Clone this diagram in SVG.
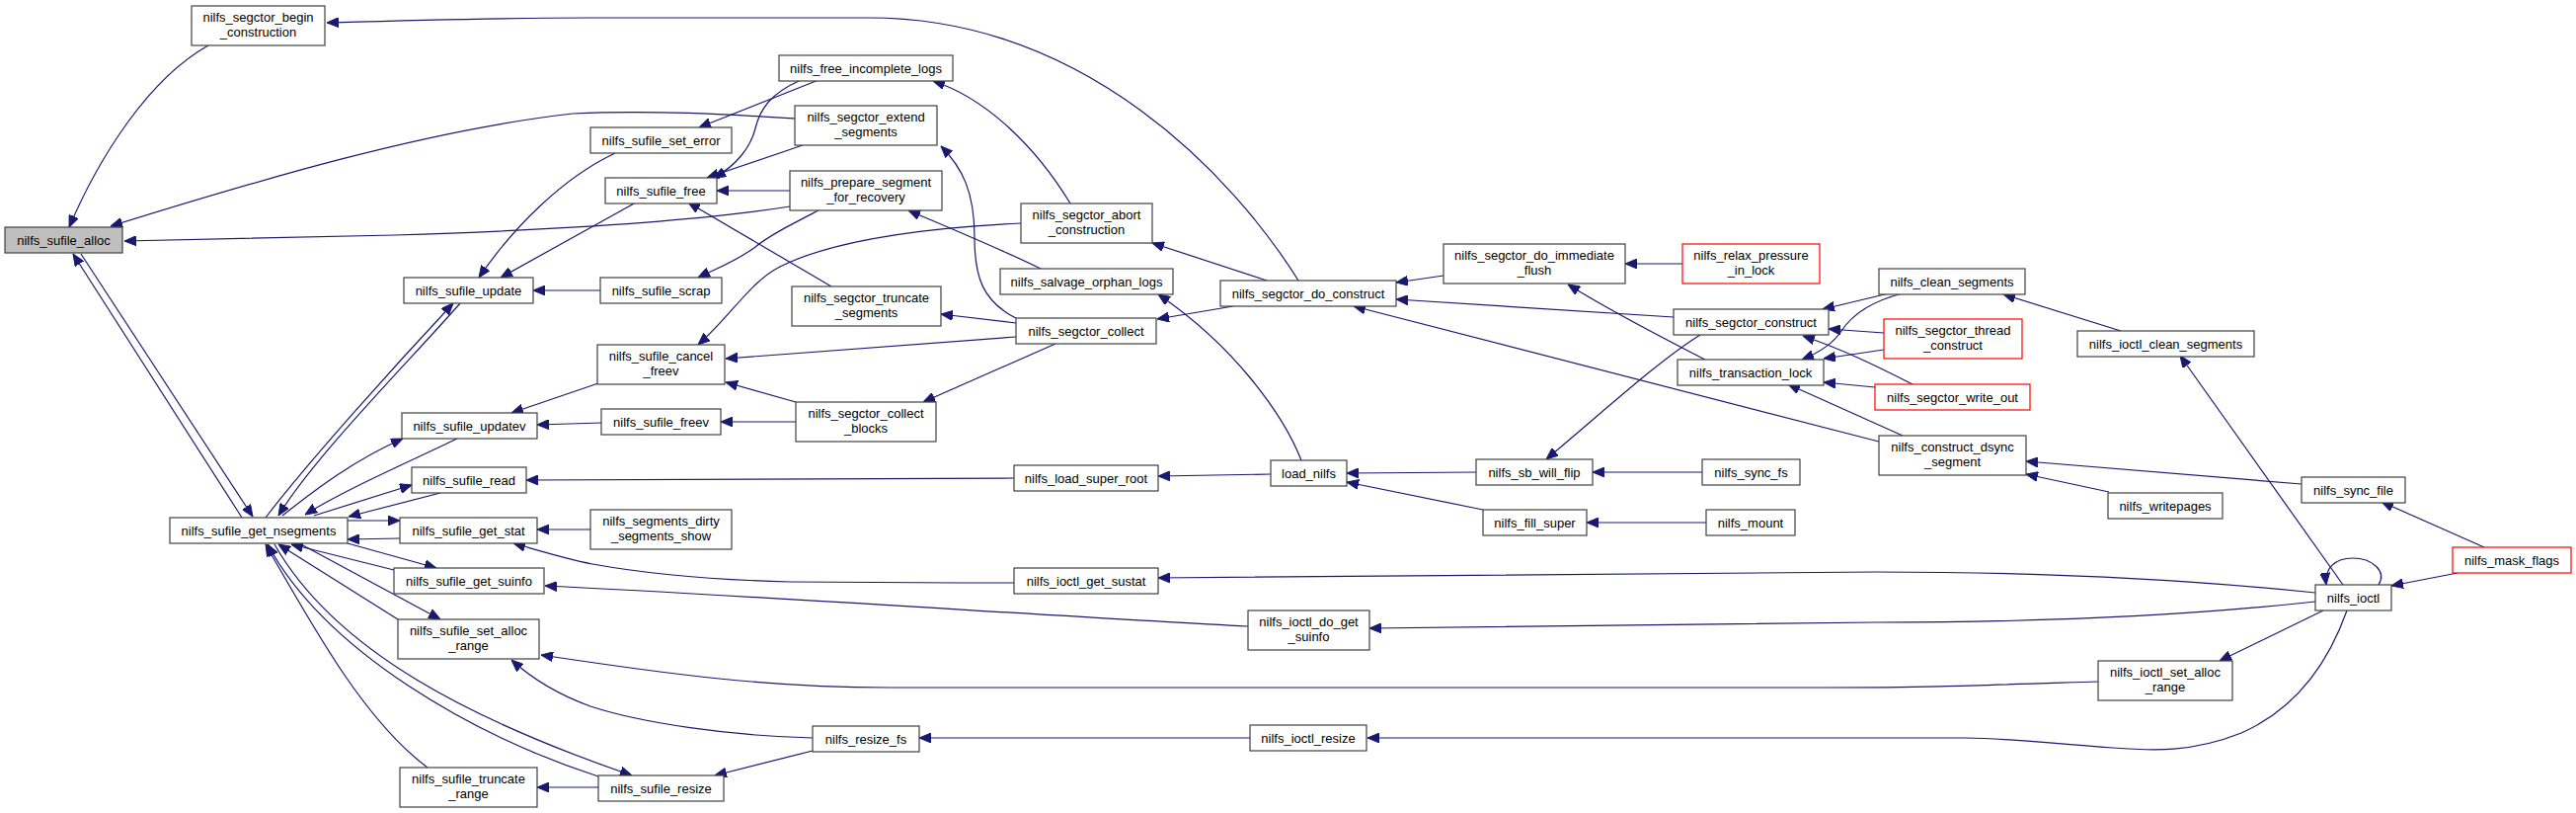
<svg xmlns="http://www.w3.org/2000/svg" width="2609" height="823" viewBox="0 0 2609 823">
<defs>
<marker id="a" markerWidth="12" markerHeight="10" refX="12" refY="5" orient="auto" markerUnits="userSpaceOnUse">
<path d="M0,0 L12,5 L0,10 z" fill="#191970" stroke="#191970" stroke-width="1"/>
</marker>
</defs>
<style>
.n rect{fill:#ffffff;stroke:#404040;stroke-width:1.2}
.n.root rect{fill:#bfbfbf}
.n.red rect{stroke:#ff0000}
.n text{font-family:"Liberation Sans",Arial,sans-serif;font-size:13px;fill:#000000;text-anchor:middle}
#edges path{fill:none;stroke:#191970;stroke-width:1.2;marker-end:url(#a)}
</style>
<rect x="0" y="0" width="2609" height="823" fill="#ffffff"/>
<g id="edges">
<path d="M211,46 C150,80 100,160 70,230"/>
<path d="M1315,284 C1250,180 1100,18 880,18 L600,18 C500,18 400,21 331,23"/>
<path d="M245,524 L74,257"/>
<path d="M82,257 L256,523"/>
<path d="M805,120 C740,116 660,111 580,115 C430,132 260,183 112,229"/>
<path d="M800,209 C700,225 560,233 400,238 L126,244"/>
<path d="M623,155 C570,180 520,230 485,281"/>
<path d="M644,205 L507,281"/>
<path d="M608,294 L540,294"/>
<path d="M269,524 C310,470 400,370 459,307"/>
<path d="M466,307 C420,360 320,460 282,522"/>
<path d="M829,81 L708,129"/>
<path d="M811,81 C780,95 770,110 765,130 C760,150 745,168 723,180"/>
<path d="M813,147 L716,180"/>
<path d="M800,193 L726,193"/>
<path d="M829,213 C800,228 780,238 765,250 C745,265 725,272 707,281"/>
<path d="M842,290 L697,205"/>
<path d="M1084,206 C1050,150 1000,100 945,82"/>
<path d="M1034,226 C950,230 850,240 790,270 C760,285 740,320 707,349"/>
<path d="M1283,284 L1167,246"/>
<path d="M1054,272 C1020,255 960,230 920,213"/>
<path d="M1029,322 C995,305 987,280 987,240 C987,195 975,170 953,148"/>
<path d="M1029,327 L953,318"/>
<path d="M1029,341 L735,363"/>
<path d="M806,407 L735,387"/>
<path d="M1069,348 L935,407"/>
<path d="M1249,310 L1172,323"/>
<path d="M1318,466 C1300,420 1250,350 1173,298"/>
<path d="M1462,279 L1414,286"/>
<path d="M1695,321 L1414,303"/>
<path d="M1903,447 L1371,310"/>
<path d="M1704,267 L1646,267"/>
<path d="M1727,364 C1690,345 1640,320 1588,288"/>
<path d="M1722,339 C1680,365 1620,420 1566,465"/>
<path d="M1913,297 L1846,313"/>
<path d="M1908,337 L1852,333"/>
<path d="M1937,389 C1905,373 1870,355 1826,340"/>
<path d="M1927,297 C1895,305 1875,320 1865,335 C1855,350 1840,358 1825,364"/>
<path d="M1908,354 L1847,363"/>
<path d="M1899,392 L1847,387"/>
<path d="M1927,441 L1811,389"/>
<path d="M2148,335 L2029,298"/>
<path d="M2331,490 L2052,467"/>
<path d="M2136,498 L2052,480"/>
<path d="M2516,554 L2412,508"/>
<path d="M2489,580 L2422,593"/>
<path d="M2373,592 L2208,360"/>
<path d="M2409,592 C2418,578 2402,565 2383,565 C2365,565 2354,575 2356,592"/>
<path d="M2353,618 L2248,669"/>
<path d="M2345,600 C2200,585 2050,579 1900,579 L1173,585"/>
<path d="M2345,609 C2200,625 2050,630 1900,630 L1387,636"/>
<path d="M2377,618 C2355,680 2320,720 2270,742 C2220,762 2180,760 2140,757 C2070,752 2030,747 1990,747 L1385,747"/>
<path d="M2125,690 C2000,694 1950,696 1850,696 L900,696 C780,696 680,683 548,663"/>
<path d="M823,747 C740,745 650,732 598,715 C565,703 540,688 518,668"/>
<path d="M823,760 L724,785"/>
<path d="M1266,747 L931,747"/>
<path d="M1287,480 L1173,482"/>
<path d="M1027,484 L533,486"/>
<path d="M1495,478 L1364,479"/>
<path d="M1502,516 L1364,488"/>
<path d="M1724,478 L1613,478"/>
<path d="M1728,529 L1607,529"/>
<path d="M1027,590 C950,590 870,590 800,589 C720,587 650,580 600,571 C570,565 545,557 520,550"/>
<path d="M1264,634 C1100,626 800,605 552,593"/>
<path d="M598,536 L544,536"/>
<path d="M352,527 L405,527"/>
<path d="M405,545 L352,546"/>
<path d="M286,522 C320,495 360,465 408,444"/>
<path d="M463,444 C420,465 350,495 309,521"/>
<path d="M318,522 L417,491"/>
<path d="M446,499 L353,523"/>
<path d="M352,550 L442,575"/>
<path d="M399,577 L295,551"/>
<path d="M303,550 L446,627"/>
<path d="M403,627 L282,551"/>
<path d="M278,551 C340,660 480,730 640,785"/>
<path d="M606,786 C480,745 330,660 271,551"/>
<path d="M433,777 C370,730 320,640 269,551"/>
<path d="M606,797 L544,797"/>
<path d="M609,428 L544,430"/>
<path d="M606,388 L518,418"/>
<path d="M806,427 L730,427"/>
</g>
<g id="n_alloc" class="n root"><rect x="5" y="230" width="119" height="26"/><text x="64.5" y="248">nilfs_sufile_alloc</text></g>
<g id="n_begin_construction" class="n"><rect x="194" y="6" width="135" height="40"/><text x="261.5" y="22">nilfs_segctor_begin</text><text x="261.5" y="37">_construction</text></g>
<g id="n_get_nsegments" class="n"><rect x="172" y="524" width="180" height="26"/><text x="262" y="542">nilfs_sufile_get_nsegments</text></g>
<g id="n_update" class="n"><rect x="409" y="281" width="131" height="26"/><text x="474.5" y="299">nilfs_sufile_update</text></g>
<g id="n_updatev" class="n"><rect x="407" y="418" width="137" height="26"/><text x="475.5" y="436">nilfs_sufile_updatev</text></g>
<g id="n_read" class="n"><rect x="417" y="473" width="116" height="26"/><text x="475" y="491">nilfs_sufile_read</text></g>
<g id="n_get_stat" class="n"><rect x="405" y="524" width="139" height="26"/><text x="474.5" y="542">nilfs_sufile_get_stat</text></g>
<g id="n_get_suinfo" class="n"><rect x="399" y="575" width="152" height="26"/><text x="475" y="593">nilfs_sufile_get_suinfo</text></g>
<g id="n_set_alloc_range" class="n"><rect x="403" y="627" width="143" height="40"/><text x="474.5" y="643">nilfs_sufile_set_alloc</text><text x="474.5" y="658">_range</text></g>
<g id="n_truncate_range" class="n"><rect x="405" y="777" width="139" height="40"/><text x="474.5" y="793">nilfs_sufile_truncate</text><text x="474.5" y="808">_range</text></g>
<g id="n_set_error" class="n"><rect x="598" y="129" width="143" height="26"/><text x="669.5" y="147">nilfs_sufile_set_error</text></g>
<g id="n_sufile_free" class="n"><rect x="613" y="180" width="113" height="26"/><text x="669.5" y="198">nilfs_sufile_free</text></g>
<g id="n_scrap" class="n"><rect x="608" y="281" width="123" height="26"/><text x="669.5" y="299">nilfs_sufile_scrap</text></g>
<g id="n_cancel_freev" class="n"><rect x="605" y="349" width="129" height="40"/><text x="669.5" y="365">nilfs_sufile_cancel</text><text x="669.5" y="380">_freev</text></g>
<g id="n_freev" class="n"><rect x="609" y="414" width="121" height="26"/><text x="669.5" y="432">nilfs_sufile_freev</text></g>
<g id="n_segments_dirty" class="n"><rect x="598" y="516" width="143" height="40"/><text x="669.5" y="532">nilfs_segments_dirty</text><text x="669.5" y="547">_segments_show</text></g>
<g id="n_sufile_resize" class="n"><rect x="606" y="785" width="127" height="26"/><text x="669.5" y="803">nilfs_sufile_resize</text></g>
<g id="n_free_incomplete_logs" class="n"><rect x="789" y="56" width="176" height="26"/><text x="877" y="74">nilfs_free_incomplete_logs</text></g>
<g id="n_extend_segments" class="n"><rect x="805" y="107" width="144" height="40"/><text x="877" y="123">nilfs_segctor_extend</text><text x="877" y="138">_segments</text></g>
<g id="n_prepare_segment" class="n"><rect x="800" y="173" width="154" height="40"/><text x="877" y="189">nilfs_prepare_segment</text><text x="877" y="204">_for_recovery</text></g>
<g id="n_truncate_segments" class="n"><rect x="802" y="290" width="151" height="40"/><text x="877.5" y="306">nilfs_segctor_truncate</text><text x="877.5" y="321">_segments</text></g>
<g id="n_collect_blocks" class="n"><rect x="806" y="407" width="142" height="40"/><text x="877" y="423">nilfs_segctor_collect</text><text x="877" y="438">_blocks</text></g>
<g id="n_resize_fs" class="n"><rect x="823" y="735" width="108" height="26"/><text x="877" y="753">nilfs_resize_fs</text></g>
<g id="n_abort_construction" class="n"><rect x="1034" y="206" width="133" height="40"/><text x="1100.5" y="222">nilfs_segctor_abort</text><text x="1100.5" y="237">_construction</text></g>
<g id="n_salvage_orphan_logs" class="n"><rect x="1013" y="272" width="175" height="26"/><text x="1100.5" y="290">nilfs_salvage_orphan_logs</text></g>
<g id="n_collect" class="n"><rect x="1029" y="322" width="142" height="26"/><text x="1100" y="340">nilfs_segctor_collect</text></g>
<g id="n_load_super_root" class="n"><rect x="1027" y="471" width="146" height="26"/><text x="1100" y="489">nilfs_load_super_root</text></g>
<g id="n_ioctl_get_sustat" class="n"><rect x="1027" y="575" width="146" height="26"/><text x="1100" y="593">nilfs_ioctl_get_sustat</text></g>
<g id="n_ioctl_do_get_suinfo" class="n"><rect x="1264" y="618" width="123" height="40"/><text x="1325.5" y="634">nilfs_ioctl_do_get</text><text x="1325.5" y="649">_suinfo</text></g>
<g id="n_ioctl_resize" class="n"><rect x="1266" y="734" width="118" height="26"/><text x="1325" y="752">nilfs_ioctl_resize</text></g>
<g id="n_do_construct" class="n"><rect x="1236" y="284" width="178" height="26"/><text x="1325" y="302">nilfs_segctor_do_construct</text></g>
<g id="n_load_nilfs" class="n"><rect x="1287" y="466" width="77" height="26"/><text x="1325.5" y="484">load_nilfs</text></g>
<g id="n_do_immediate_flush" class="n"><rect x="1462" y="247" width="184" height="40"/><text x="1554" y="263">nilfs_segctor_do_immediate</text><text x="1554" y="278">_flush</text></g>
<g id="n_sb_will_flip" class="n"><rect x="1495" y="465" width="118" height="26"/><text x="1554" y="483">nilfs_sb_will_flip</text></g>
<g id="n_fill_super" class="n"><rect x="1502" y="516" width="105" height="26"/><text x="1554.5" y="534">nilfs_fill_super</text></g>
<g id="n_relax_pressure" class="n red"><rect x="1704" y="247" width="139" height="40"/><text x="1773.5" y="263">nilfs_relax_pressure</text><text x="1773.5" y="278">_in_lock</text></g>
<g id="n_segctor_construct" class="n"><rect x="1695" y="313" width="157" height="26"/><text x="1773.5" y="331">nilfs_segctor_construct</text></g>
<g id="n_transaction_lock" class="n"><rect x="1699" y="364" width="148" height="26"/><text x="1773" y="382">nilfs_transaction_lock</text></g>
<g id="n_sync_fs" class="n"><rect x="1724" y="465" width="99" height="26"/><text x="1773.5" y="483">nilfs_sync_fs</text></g>
<g id="n_mount" class="n"><rect x="1728" y="516" width="90" height="26"/><text x="1773" y="534">nilfs_mount</text></g>
<g id="n_clean_segments" class="n"><rect x="1903" y="272" width="148" height="26"/><text x="1977" y="290">nilfs_clean_segments</text></g>
<g id="n_thread_construct" class="n red"><rect x="1908" y="323" width="140" height="40"/><text x="1978" y="339">nilfs_segctor_thread</text><text x="1978" y="354">_construct</text></g>
<g id="n_write_out" class="n red"><rect x="1899" y="389" width="157" height="26"/><text x="1977.5" y="407">nilfs_segctor_write_out</text></g>
<g id="n_construct_dsync" class="n"><rect x="1903" y="441" width="149" height="40"/><text x="1977.5" y="457">nilfs_construct_dsync</text><text x="1977.5" y="472">_segment</text></g>
<g id="n_ioctl_clean_segments" class="n"><rect x="2104" y="335" width="179" height="26"/><text x="2193.5" y="353">nilfs_ioctl_clean_segments</text></g>
<g id="n_writepages" class="n"><rect x="2135" y="499" width="116" height="26"/><text x="2193" y="517">nilfs_writepages</text></g>
<g id="n_ioctl_set_alloc_range" class="n"><rect x="2125" y="669" width="136" height="40"/><text x="2193" y="685">nilfs_ioctl_set_alloc</text><text x="2193" y="700">_range</text></g>
<g id="n_sync_file" class="n"><rect x="2331" y="483" width="105" height="26"/><text x="2383.5" y="501">nilfs_sync_file</text></g>
<g id="n_ioctl" class="n"><rect x="2345" y="592" width="77" height="26"/><text x="2383.5" y="610">nilfs_ioctl</text></g>
<g id="n_mask_flags" class="n red"><rect x="2484" y="554" width="120" height="26"/><text x="2544" y="572">nilfs_mask_flags</text></g>
</svg>
